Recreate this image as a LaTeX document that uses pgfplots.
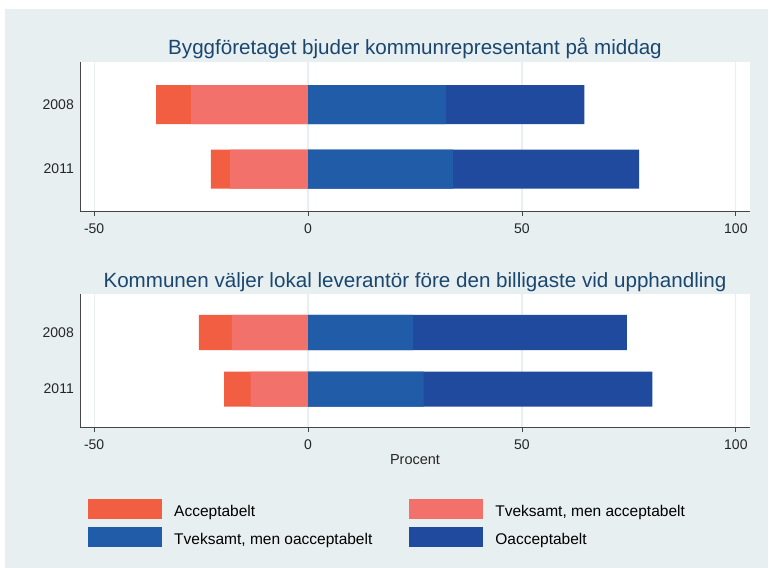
\documentclass[border=0pt]{standalone}
\usepackage{pgfplots}
\pgfplotsset{compat=1.18}
\usepackage{fontspec}
\setmainfont{Liberation Sans}
\definecolor{acc}{RGB}{242,94,66}
\definecolor{tva}{RGB}{242,113,106}
\definecolor{tvo}{RGB}{32,92,168}
\definecolor{oac}{RGB}{31,74,158}
\definecolor{bgc}{RGB}{232,239,240}
\definecolor{gridc}{RGB}{232,239,240}
\definecolor{titlec}{RGB}{26,71,111}
\definecolor{axisc}{RGB}{70,70,70}
\newcommand{\legtxt}[1]{\raisebox{6.5pt}{#1}}
\begin{document}
\begin{tikzpicture}[x=1pt,y=1pt]
\fill[white] (0,0) rectangle (769,568);
\fill[bgc] (5,0) rectangle (768,559);
\pgfplotsset{
  panel/.style={
    anchor=south west, scale only axis, width=670pt,
    xbar, bar shift=0pt,
    xmin=-53.3, xmax=103.3,
    y dir=reverse,
    ytick={1,2}, yticklabels={2008,2011},
    xtick={-50,0,50,100}, xticklabels={-50,0,50,100},
    axis lines*=left,
    axis line style={color=axisc, line width=0.8pt},
    axis background/.style={fill=white},
    xmajorgrids, grid style={color=gridc, line width=1.2pt},
    xtick align=outside, ytick style={draw=none},
    major tick length=5pt,
    xtick style={color=axisc, line width=0.8pt},
    ticklabel style={font=\fontsize{14}{16}\selectfont, color=black!85},
    xticklabel style={inner sep=0pt, anchor=north, yshift=-8pt},
    yticklabel style={inner sep=0pt, anchor=east, xshift=-1pt},
    title style={font=\fontsize{20.6}{24}\selectfont, color=titlec, at={(0.5,1)}, anchor=base, yshift=1pt},
  }
}
% Bars are drawn from 0 to the cumulative end of each stack; inner segments are drawn over outer ones.
% Segment values (percent): Acceptabelt, Tveksamt men acceptabelt, Tveksamt men oacceptabelt, Oacceptabelt
% Panel 1: 2008: 8.2, 27.3, 32.2, 32.4 ; 2011: 4.5, 18.2, 33.9, 43.5
% Panel 2: 2008: 7.7, 17.8, 24.5, 50.0 ; 2011: 6.2, 13.4, 27.0, 53.5
\begin{axis}[panel, at={(80pt,357pt)}, height=149pt, ymin=0.34, ymax=2.65, bar width=0.605,
  title={Byggföretaget bjuder kommunrepresentant på middag}]
\addplot[fill=acc, draw=none] coordinates {(-35.5,1) (-22.7,2)};
\addplot[fill=tva, draw=none] coordinates {(-27.3,1) (-18.2,2)};
\addplot[fill=oac, draw=none] coordinates {(64.6,1) (77.4,2)};
\addplot[fill=tvo, draw=none] coordinates {(32.2,1) (33.9,2)};
\end{axis}
\begin{axis}[panel, at={(80pt,141pt)}, height=133pt, ymin=0.32, ymax=2.67, bar width=0.62,
  title={Kommunen väljer lokal leverantör före den billigaste vid upphandling},
  xlabel={Procent},
  xlabel style={font=\fontsize{14.5}{16}\selectfont, color=black!85, at={(axis description cs:0.5,0)}, anchor=base, yshift=-37pt},
  legend columns=2,
  legend image code/.code={\fill[#1] (0pt,-4.5pt) rectangle (74pt,15.5pt);},
  legend style={at={(axis description cs:0.012,-0.541)}, anchor=north west, draw=none, fill=none,
    inner sep=0pt, row sep=3pt, font=\fontsize{15.5}{18}\selectfont,
    nodes={inner sep=0pt},
    /tikz/every odd column/.append style={column sep=12pt},
    /tikz/every even column/.append style={column sep=37pt}},
  legend cell align=left]
\addlegendimage{fill=acc, draw=none}
\addlegendimage{fill=tva, draw=none}
\addlegendimage{fill=tvo, draw=none}
\addlegendimage{fill=oac, draw=none}
\addplot[forget plot, fill=acc, draw=none] coordinates {(-25.5,1) (-19.6,2)};
\addplot[forget plot, fill=tva, draw=none] coordinates {(-17.8,1) (-13.4,2)};
\addplot[forget plot, fill=oac, draw=none] coordinates {(74.5,1) (80.5,2)};
\addplot[forget plot, fill=tvo, draw=none] coordinates {(24.5,1) (27.0,2)};
\legend{\legtxt{Acceptabelt}, \legtxt{Tveksamt, men acceptabelt}, \legtxt{Tveksamt, men oacceptabelt}, \legtxt{Oacceptabelt}}
\end{axis}
\end{tikzpicture}
\end{document}
